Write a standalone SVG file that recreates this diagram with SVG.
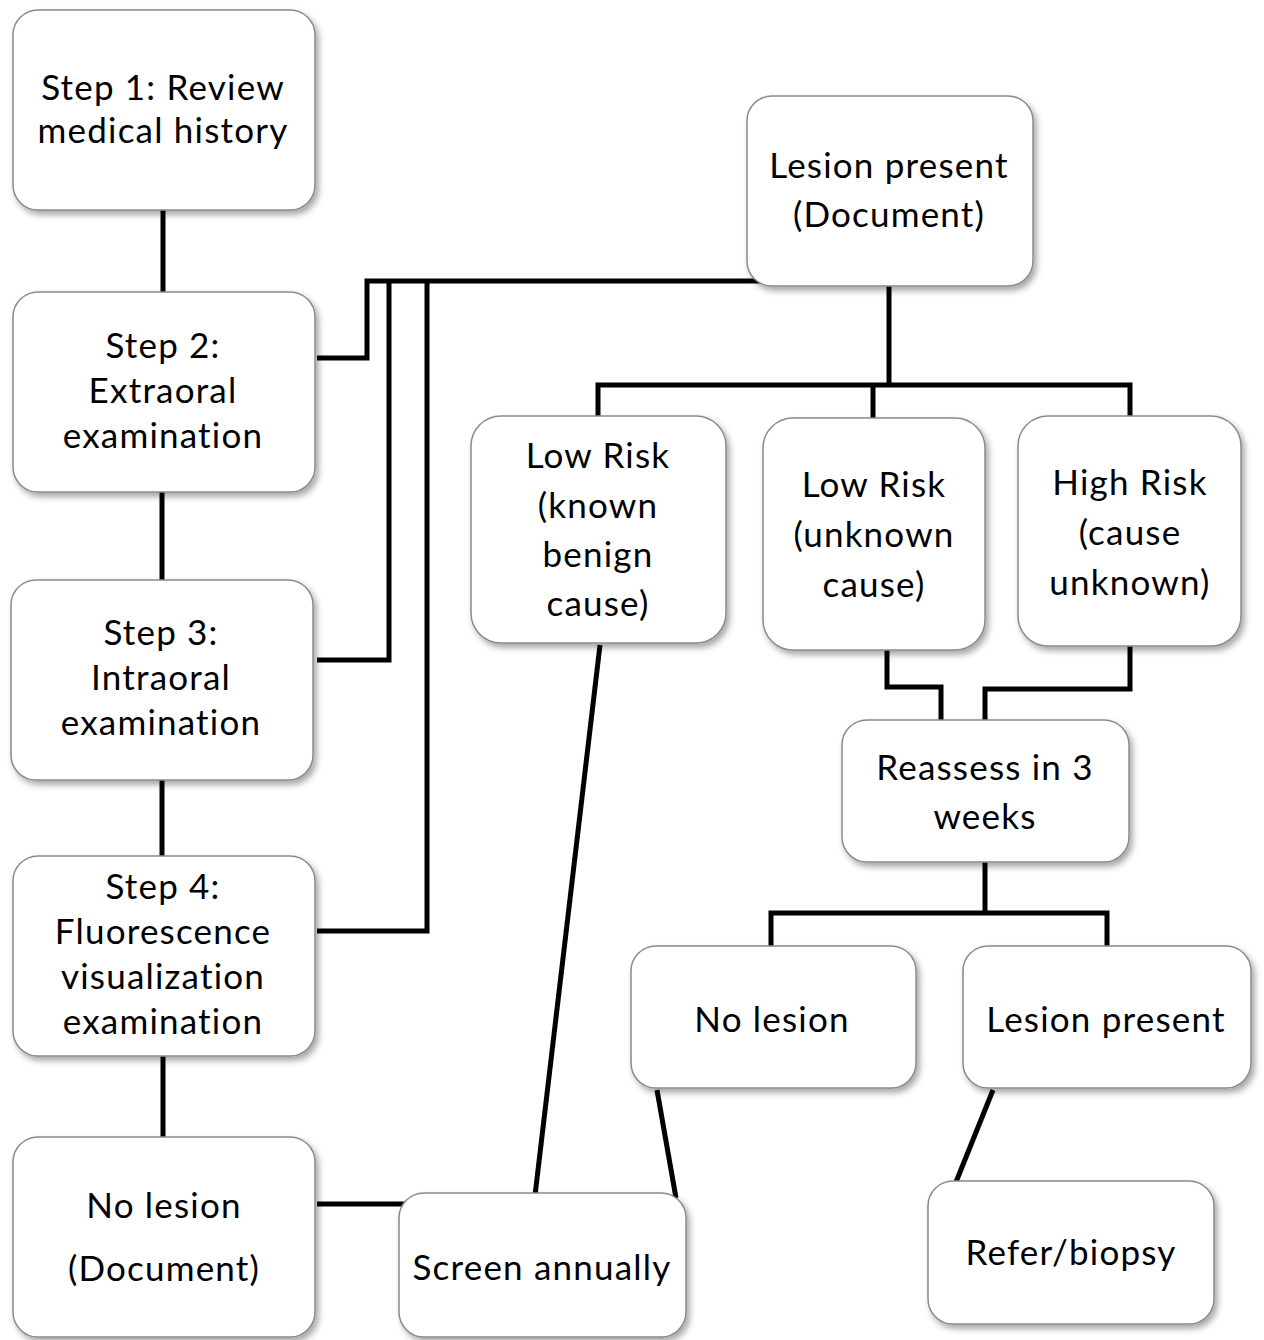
<svg xmlns="http://www.w3.org/2000/svg" width="1264" height="1340" viewBox="0 0 1264 1340">
<defs>
<filter id="sh" x="-10%" y="-10%" width="130%" height="130%">
<feDropShadow dx="3" dy="4" stdDeviation="3" flood-color="#000" flood-opacity="0.35"/>
</filter>
<style>
.box{fill:#fff;stroke:#8a8a8a;stroke-width:1.5;filter:url(#sh)}
.t{font-family:Lato,"Open Sans","Liberation Sans",sans-serif;font-size:35px;letter-spacing:1.2px;fill:#000;text-anchor:middle}
.c{fill:none;stroke:#000;stroke-width:5;stroke-linecap:butt;stroke-linejoin:miter}
</style>
</defs>
<rect width="1264" height="1340" fill="#fff"/>
<g id="connectors">
<path class="c" d="M163,210 V292"/>
<path class="c" d="M162,492 V580"/>
<path class="c" d="M162,780 V856"/>
<path class="c" d="M163,1056 V1137"/>
<path class="c" d="M317,358 H367 V281 H773"/>
<path class="c" d="M317,660 H389 V281"/>
<path class="c" d="M317,931 H427 V281"/>
<path class="c" d="M889,286 V385"/>
<path class="c" d="M598,416 V385 H1130 V416"/>
<path class="c" d="M873,385 V418"/>
<path class="c" d="M887,650 V687 H941 V722"/>
<path class="c" d="M1130,646 V689 H985 V720"/>
<path class="c" d="M985,862 V913"/>
<path class="c" d="M771,946 V913 H1107 V946"/>
<path class="c" d="M657,1090 L676,1198"/>
<path class="c" d="M600,645 L534,1204"/>
<path class="c" d="M317,1204 H408"/>
<path class="c" d="M993,1090 L956,1182"/>
</g>
<g id="step1"><rect class="box" x="13" y="10" width="302" height="200" rx="25"/>
<text class="t" x="163" y="100">Step 1: Review</text><text class="t" x="163" y="143">medical history</text></g>
<g id="step2"><rect class="box" x="13" y="292" width="302" height="200" rx="25"/>
<text class="t" x="163" y="358">Step 2:</text><text class="t" x="163" y="403">Extraoral</text><text class="t" x="163" y="448">examination</text></g>
<g id="step3"><rect class="box" x="11" y="580" width="302" height="200" rx="25"/>
<text class="t" x="161" y="645">Step 3:</text><text class="t" x="161" y="690">Intraoral</text><text class="t" x="161" y="735">examination</text></g>
<g id="step4"><rect class="box" x="13" y="856" width="302" height="200" rx="25"/>
<text class="t" x="163" y="899">Step 4:</text><text class="t" x="163" y="944">Fluorescence</text><text class="t" x="163" y="989">visualization</text><text class="t" x="163" y="1034">examination</text></g>
<g id="nolesion-doc"><rect class="box" x="13" y="1137" width="302" height="200" rx="25"/>
<text class="t" x="164" y="1218">No lesion</text><text class="t" x="164" y="1281">(Document)</text></g>
<g id="screen"><rect class="box" x="399" y="1193" width="287" height="144" rx="25"/>
<text class="t" x="542" y="1280">Screen annually</text></g>
<g id="lesion-doc"><rect class="box" x="747" y="96" width="286" height="190" rx="25"/>
<text class="t" x="889" y="178">Lesion present</text><text class="t" x="889" y="227">(Document)</text></g>
<g id="lowrisk-known"><rect class="box" x="471" y="416" width="255" height="227" rx="30"/>
<text class="t" x="598" y="468">Low Risk</text><text class="t" x="598" y="518">(known</text><text class="t" x="598" y="567">benign</text><text class="t" x="598" y="616">cause)</text></g>
<g id="lowrisk-unknown"><rect class="box" x="763" y="418" width="222" height="232" rx="30"/>
<text class="t" x="874" y="497">Low Risk</text><text class="t" x="874" y="547">(unknown</text><text class="t" x="874" y="597">cause)</text></g>
<g id="highrisk"><rect class="box" x="1018" y="416" width="223" height="230" rx="30"/>
<text class="t" x="1130" y="495">High Risk</text><text class="t" x="1130" y="545">(cause</text><text class="t" x="1130" y="595">unknown)</text></g>
<g id="reassess"><rect class="box" x="842" y="720" width="287" height="142" rx="25"/>
<text class="t" x="985" y="780">Reassess in 3</text><text class="t" x="985" y="829">weeks</text></g>
<g id="nolesion"><rect class="box" x="631" y="946" width="285" height="142" rx="25"/>
<text class="t" x="772" y="1032">No lesion</text></g>
<g id="lesion"><rect class="box" x="963" y="946" width="288" height="142" rx="25"/>
<text class="t" x="1106" y="1032">Lesion present</text></g>
<g id="refer"><rect class="box" x="928" y="1181" width="286" height="143" rx="25"/>
<text class="t" x="1071" y="1265">Refer/biopsy</text></g>
</svg>
